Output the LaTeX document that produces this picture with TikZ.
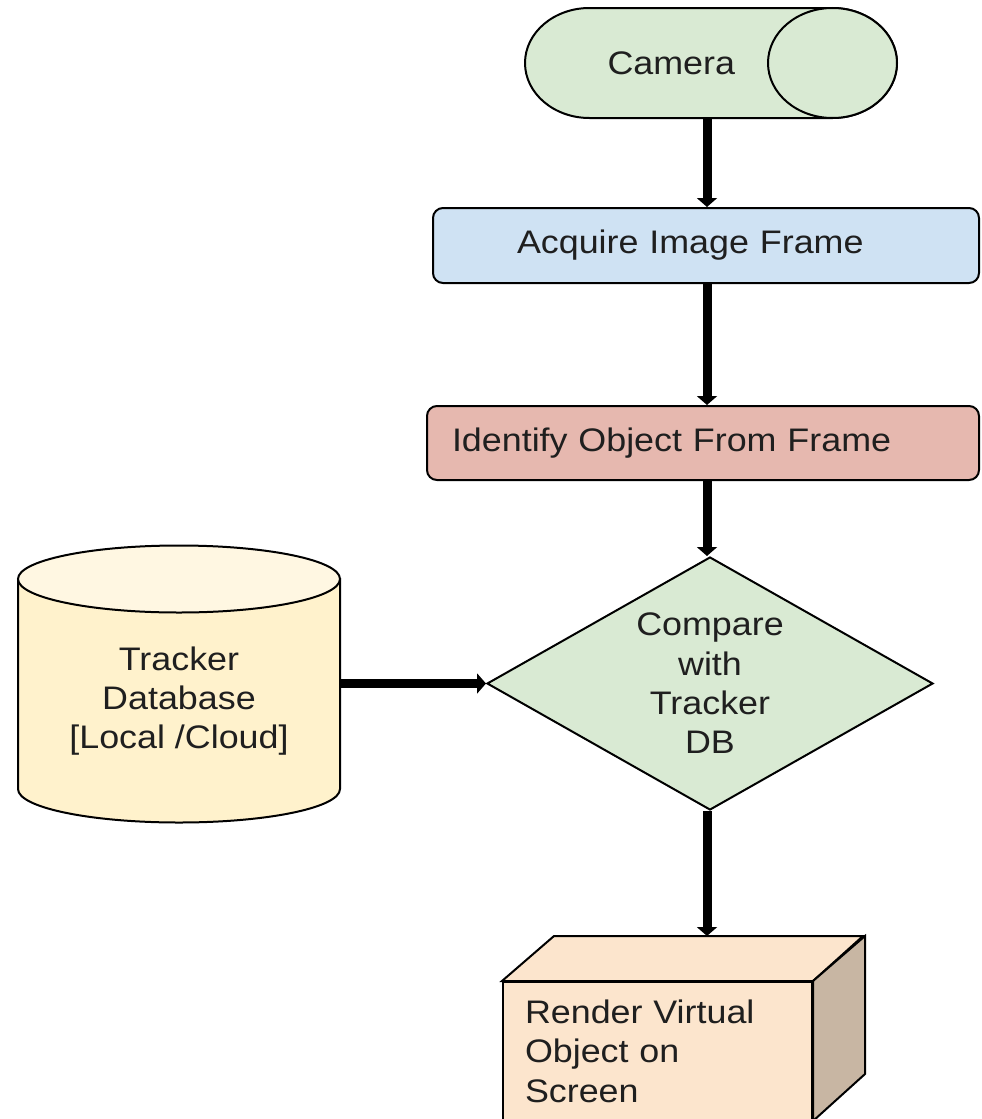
\documentclass[tikz,border=0pt]{standalone}
\usepackage{fontspec}
\setmainfont{Liberation Sans}[FakeStretch=1.1]
\usetikzlibrary{shapes.geometric,arrows.meta,positioning}

\definecolor{camgreen}{HTML}{D9EAD3}
\definecolor{acqblue}{HTML}{CFE2F3}
\definecolor{idred}{HTML}{E6B8AF}
\definecolor{dbbody}{HTML}{FFF2CC}
\definecolor{dbtop}{HTML}{FFF7E2}
\definecolor{rendfront}{HTML}{FCE5CD}
\definecolor{rendside}{HTML}{C8B6A3}
\definecolor{txtgray}{HTML}{1F1F1F}

\begin{document}
\begin{tikzpicture}[x=0.5pt, y=0.5pt,
    every node/.style={font=\fontsize{16.3}{19.7}\selectfont, text=txtgray},
    outline/.style={draw, line width=1pt},
    box/.style={outline, rounded corners=5pt, align=left},
    flow/.style={line width=4.5pt, -{Triangle[width=10pt,length=4.5pt]}}]
    \useasboundingbox (0,0) rectangle (981,-1119);
    \coordinate (axis) at (707,0);

    % camera (horizontal cylinder)
    \draw[outline, fill=camgreen] (589.5,-8)
      arc[start angle=90, end angle=270, x radius=32.25pt, y radius=27.5pt]
      -- (832.5,-118)
      arc[start angle=-90, end angle=90, x radius=32.25pt, y radius=27.5pt] -- cycle;
    \draw[outline, fill=camgreen] (832.5,-63) ellipse [x radius=32.25pt, y radius=27.5pt];
    \node[minimum height=55pt, inner xsep=41.5pt, text width=103.5pt, align=left]
      (camera) at (711,-63) {Camera};

    \node[box, fill=acqblue, minimum height=37.5pt, inner xsep=42pt, text width=189pt]
      (acquire) at (706,-245.5) {Acquire Image Frame};
    \node[box, fill=idred, minimum height=37pt, inner xsep=12.5pt, text width=251pt]
      (identify) at (703,-443) {Identify Object From Frame};

    \node[outline, diamond, aspect=1.76, fill=camgreen, minimum width=223pt,
      minimum height=126.5pt, inner sep=0pt, align=center]
      (cmp) at (710,-683.5) {Compare\\with\\Tracker\\DB};

    % database (vertical cylinder)
    \draw[outline, fill=dbbody] (18,-579) -- (18,-789)
      arc[start angle=180, end angle=360, x radius=80.5pt, y radius=16.75pt]
      -- (340,-579) -- cycle;
    \draw[outline, fill=dbtop] (179,-579) ellipse [x radius=80.5pt, y radius=16.75pt];
    \node[minimum width=161pt, inner xsep=0pt, align=center]
      (db) at (179,-701) {Tracker\\Database\\{[Local /Cloud]}};

    % render box
    \node[outline, fill=rendfront, minimum height=69pt, inner xsep=11pt, text width=132.5pt,
      align=left]
      (render) at (657.5,-1051) {Render Virtual\\Object on\\Screen};
    \draw[outline, fill=rendfront] (render.north west) -- ++(52,45) -- ++(309,0)
      -- (render.north east) -- cycle;
    \draw[outline, fill=rendside] (render.north east) -- ++(52,45) -- ++(0,-138)
      -- (render.south east) -- cycle;
    \coordinate (renderback) at ([yshift=22.5pt]render.north);

    \draw[flow] (camera.south -| axis) -- (acquire.north -| axis);
    \draw[flow] (acquire.south -| axis) -- (identify.north -| axis);
    \draw[flow] (identify.south -| axis) -- (cmp.north -| axis);
    \draw[flow] (cmp.south -| axis) -- (renderback -| axis);
    \draw[flow] (db.east |- cmp.west) -- (cmp.west);
\end{tikzpicture}
\end{document}
